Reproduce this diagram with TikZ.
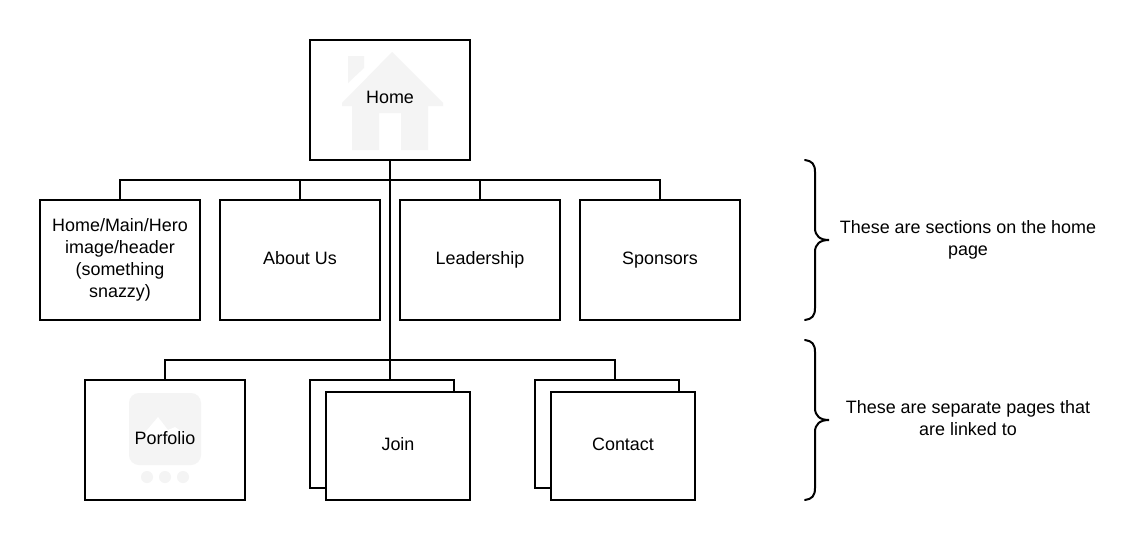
\documentclass[tikz,border=0pt]{standalone}
\usepackage{fontspec}
\setmainfont{Liberation Sans}
\definecolor{icongray}{HTML}{F4F4F4}

\begin{document}
\begin{tikzpicture}[x=0.025cm,y=-0.025cm,line width=0.05cm]
\tikzset{
  note/.style={font=\fontsize{12.75}{15.5}\selectfont,align=center,inner sep=0pt},
  oneline/.style={text height=10pt,text depth=4.2pt},
  pagebox/.style={note,draw=black,fill=white,shape=rectangle,minimum width=4cm,minimum height=3cm},
  stackbox/.style={pagebox,oneline,minimum width=3.6cm,minimum height=2.7cm}
}
\useasboundingbox (0,0) rectangle (1141,540);
\node[pagebox] (home) at (390,100) {};
% house icon
\fill[icongray] (392,52) -- (443,103) -- (443,106) -- (428,106) -- (428,150) -- (401,150) -- (401,113) -- (379,113) -- (379,150) -- (352,150) -- (352,106) -- (342,106) -- (342,103) -- cycle;
\fill[icongray] (348,56) -- (364,56) -- (364,68) -- (348,83) -- cycle;
\node[note,oneline] (hometext) at (390,99) {Home};
\node[pagebox] (hero) at (120,260) {Home/Main/Hero\\image/header\\(something\\snazzy)};
\node[pagebox,oneline] (about) at (300,260) {About Us};
\node[pagebox,oneline] (leader) at (480,260) {Leadership};
\node[pagebox,oneline] (sponsors) at (660,260) {Sponsors};
\node[pagebox] (portfolio) at (165,440) {};
% gallery icon
\fill[icongray,rounded corners=0.25cm] (129,393) rectangle (201,465);
\fill[white] (142,436) -- (158,417) -- (168,430) -- (175,427) -- (188,436) -- cycle;
\foreach \dotx in {147,165,183}
  \fill[icongray] (\dotx,477) circle (0.15cm);
\node[note,oneline] (portfoliotext) at (165,440) {Porfolio};
\node[stackbox] (joinback) at (382,434) {};
\node[stackbox] (join) at (398,446) {Join};
\node[stackbox] (contactback) at (607,434) {};
\node[stackbox] (contact) at (623,446) {Contact};
\coordinate (busa) at (390,180);
\coordinate (busb) at (390,360);
\coordinate (jointop) at (390,380);
\coordinate (contacttop) at (615,380);
\draw (home.south) -- (jointop);
\draw (busa) -| (hero.north);
\draw (busa) -| (about.north);
\draw (busa) -| (leader.north);
\draw (busa) -| (sponsors.north);
\draw (busb) -| (portfolio.north);
\draw (busb) -| (contacttop);
% braces
\foreach \bracey in {160,340}
  \draw[line cap=round] (805,\bracey) .. controls (812,\bracey+1) and (815,\bracey+4) .. (815,\bracey+12)
    -- (815,\bracey+68) .. controls (815,\bracey+76) and (820,\bracey+80) .. (829,\bracey+80)
    .. controls (820,\bracey+80) and (815,\bracey+84) .. (815,\bracey+92)
    -- (815,\bracey+148) .. controls (815,\bracey+156) and (812,\bracey+159) .. (805,\bracey+160);
\node[note] (sectionsnote) at (968,240) {These are sections on the home\\page};
\node[note] (pagesnote) at (968,418) {These are separate pages that\\are linked to};
\end{tikzpicture}
\end{document}
